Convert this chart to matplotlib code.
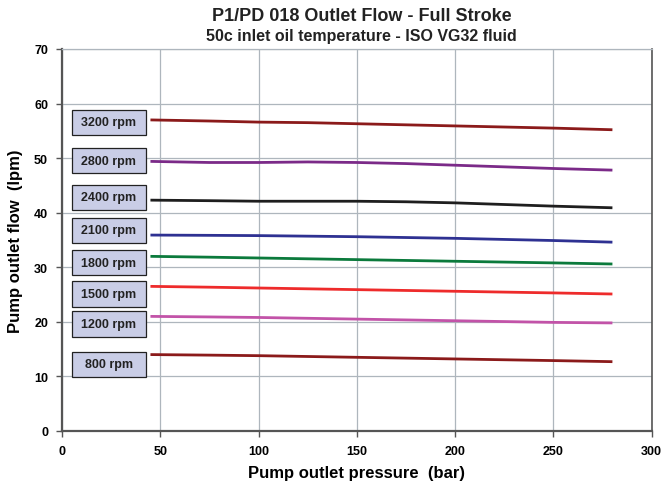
import matplotlib
matplotlib.use("Agg")

import matplotlib.pyplot as plt
from matplotlib.patches import Rectangle

plt.rcParams["font.family"] = ["Liberation Sans Narrow", "Liberation Sans", "DejaVu Sans"]

pressure = [45, 75, 100, 125, 150, 175, 200, 225, 250, 280]
speeds = ["3200 rpm", "2800 rpm", "2400 rpm", "2100 rpm",
          "1800 rpm", "1500 rpm", "1200 rpm", "800 rpm"]
flow_3200 = [57.0, 56.8, 56.6, 56.5, 56.3, 56.1, 55.9, 55.7, 55.5, 55.2]
flow_2800 = [49.4, 49.2, 49.2, 49.3, 49.2, 49.0, 48.7, 48.4, 48.1, 47.8]
flow_2400 = [42.3, 42.2, 42.1, 42.1, 42.1, 42.0, 41.8, 41.5, 41.2, 40.9]
flow_2100 = [35.9, 35.85, 35.8, 35.7, 35.6, 35.45, 35.3, 35.1, 34.9, 34.6]
flow_1800 = [32.0, 31.85, 31.7, 31.55, 31.4, 31.25, 31.1, 30.95, 30.8, 30.6]
flow_1500 = [26.5, 26.35, 26.2, 26.05, 25.9, 25.75, 25.6, 25.45, 25.3, 25.1]
flow_1200 = [21.0, 20.9, 20.8, 20.65, 20.5, 20.35, 20.2, 20.05, 19.9, 19.8]
flow_800 = [14.0, 13.9, 13.8, 13.65, 13.5, 13.35, 13.2, 13.05, 12.9, 12.7]
label_y = [56.6, 49.5, 42.8, 36.8, 30.8, 25.1, 19.6, 12.2]

series = [flow_3200, flow_2800, flow_2400, flow_2100,
          flow_1800, flow_1500, flow_1200, flow_800]
colors = ["#8b1a1a", "#7b2a88", "#1e1e1e", "#2e3192",
          "#0b7a3c", "#ee2b2b", "#c253a8", "#8b1a1a"]

fig = plt.figure(figsize=(6.63, 4.89), dpi=100)
ax = fig.add_axes([0.0935, 0.1166, 0.8895, 0.7812])

for vals, c in zip(series, colors):
    ax.plot(pressure, vals, color=c, linewidth=2.0, solid_capstyle="butt",
            solid_joinstyle="round", zorder=3)

# label boxes
for name, y in zip(speeds, label_y):
    ax.add_patch(Rectangle((5, y - 2.3), 37.5, 4.6, facecolor="#c9cde6",
                           edgecolor="#222222", linewidth=0.9, zorder=4))
    ax.text(23.75, y, name, ha="center", va="center", fontsize=9,
            fontweight="bold", color="#222222", zorder=5)

ax.set_xlim(0, 300)
ax.set_ylim(0, 70)
ax.set_xticks(range(0, 301, 50))
ax.set_yticks(range(0, 71, 10))
ax.grid(True, color="#aeb6bd", linewidth=0.9)
ax.set_axisbelow(True)
for side in ["left", "bottom"]:
    ax.spines[side].set_color("#555555")
    ax.spines[side].set_linewidth(1.6)
ax.spines["right"].set_color("#555555")
ax.spines["right"].set_linewidth(1.2)
ax.spines["top"].set_color("#aeb6bd")
ax.spines["top"].set_linewidth(0.9)
ax.tick_params(axis="both", labelsize=9, length=4, width=1, color="#555555", pad=6)
for lab in ax.get_xticklabels() + ax.get_yticklabels():
    lab.set_fontweight("bold")

ax.set_xlabel("Pump outlet pressure  (bar)", fontsize=12, fontweight="bold", labelpad=6)
ax.set_ylabel("Pump outlet flow  (lpm)", fontsize=12, fontweight="bold", labelpad=8)

fig.text(0.545, 0.966, "P1/PD 018 Outlet Flow - Full Stroke", ha="center", va="center",
         fontsize=13, fontweight="bold", color="#222222")
fig.text(0.545, 0.926, "50c inlet oil temperature - ISO VG32 fluid", ha="center", va="center",
         fontsize=11.5, fontweight="bold", color="#222222")

fig.savefig("out.png", dpi=100)
